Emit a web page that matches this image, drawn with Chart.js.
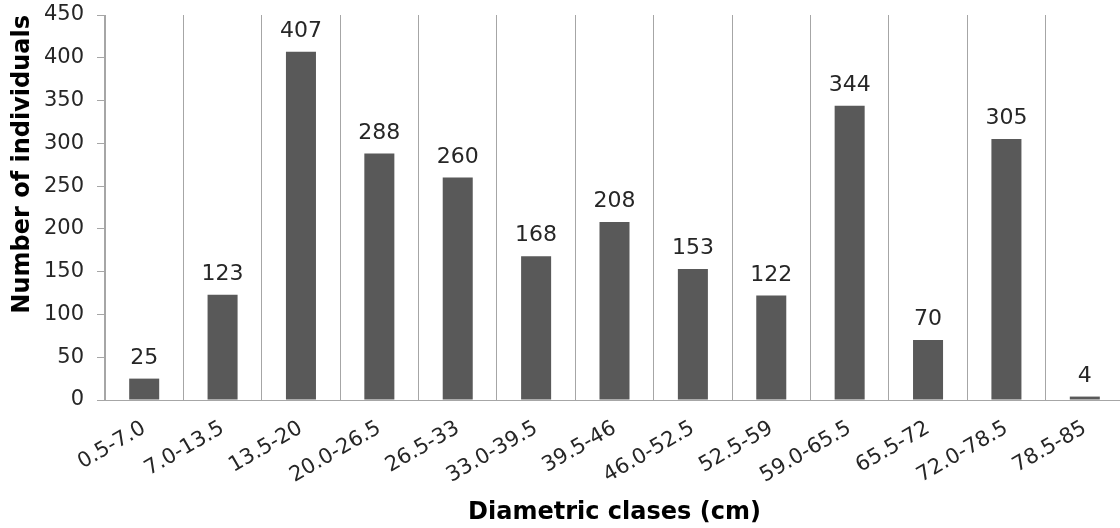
<!DOCTYPE html>
<html>
<head>
<meta charset="utf-8">
<script src="https://cdn.jsdelivr.net/npm/chart.js@4.4.1/dist/chart.umd.min.js"></script>
<style>
  html, body { margin: 0; padding: 0; background: #fff; overflow: hidden; }
  #wrap { width: 1120px; height: 528px; overflow: hidden; }
  canvas { display: block; }
</style>
</head>
<body>
<div id="wrap"><canvas id="chart" width="1130" height="528"></canvas></div>
<script>
// Diameter classes (cm) and number of trees in each class
const classes = ['0.5-7.0', '7.0-13.5', '13.5-20', '20.0-26.5', '26.5-33', '33.0-39.5',
  '39.5-46', '46.0-52.5', '52.5-59', '59.0-65.5', '65.5-72', '72.0-78.5', '78.5-85'];
const individuals = [25, 123, 407, 288, 260, 168, 208, 153, 122, 344, 70, 305, 4];
const yTicks = { min: 0, max: 450, step: 50 };

const FONT = '"DejaVu Sans", Verdana, sans-serif';

// Writes each bar's value just above it
const valueLabels = {
  id: 'valueLabels',
  afterDatasetsDraw(chart) {
    const ctx = chart.ctx;
    const meta = chart.getDatasetMeta(0);
    ctx.save();
    ctx.font = '22px ' + FONT;
    ctx.fillStyle = '#262626';
    ctx.textAlign = 'center';
    ctx.textBaseline = 'alphabetic';
    meta.data.forEach((bar, i) => {
      ctx.fillText(String(chart.data.datasets[0].data[i]), bar.x, bar.y - 15);
    });
    ctx.restore();
  }
};

new Chart(document.getElementById('chart'), {
  type: 'bar',
  data: {
    labels: classes,
    datasets: [{
      data: individuals,
      backgroundColor: '#595959',
      borderWidth: 0,
      categoryPercentage: 1.0,
      barPercentage: 0.383
    }]
  },
  options: {
    responsive: false,
    devicePixelRatio: 1,
    animation: false,
    layout: { padding: { top: 15, right: 6, left: 0, bottom: 0 } },
    plugins: { legend: { display: false }, tooltip: { enabled: false } },
    scales: {
      x: {
        grid: { display: true, offset: true, drawOnChartArea: true, drawTicks: false, color: '#a6a6a6', lineWidth: 1 },
        border: { display: true, color: '#a6a6a6', width: 1 },
        ticks: {
          color: '#262626',
          font: { family: FONT, size: 21 },
          minRotation: 30,
          maxRotation: 30,
          padding: 16,
          autoSkip: false
        },
        title: {
          display: true,
          text: 'Diametric clases (cm)',
          color: '#000',
          font: { family: FONT, size: 24, weight: 'bold' },
          padding: { top: 0, bottom: 1 }
        },
        afterFit(scale) {
          scale.height = 128;
          scale.paddingLeft = 0;
          scale.paddingRight = 0;
        }
      },
      y: {
        min: yTicks.min,
        max: yTicks.max,
        grid: { display: true, drawOnChartArea: false, drawTicks: true, tickLength: 8, color: '#a6a6a6' },
        border: { display: true, color: '#a6a6a6', width: 1 },
        ticks: {
          stepSize: yTicks.step,
          color: '#262626',
          font: { family: FONT, size: 21 },
          padding: 13
        },
        title: {
          display: true,
          text: 'Number of individuals',
          align: 'end',
          color: '#000',
          font: { family: FONT, size: 24, weight: 'bold' },
          padding: { top: 8, bottom: 0 }
        },
        afterFit(scale) {
          scale.width = 105;
          scale.paddingTop = 0;
          scale.paddingBottom = 0;
        }
      }
    }
  },
  plugins: [valueLabels]
});
</script>
</body>
</html>
